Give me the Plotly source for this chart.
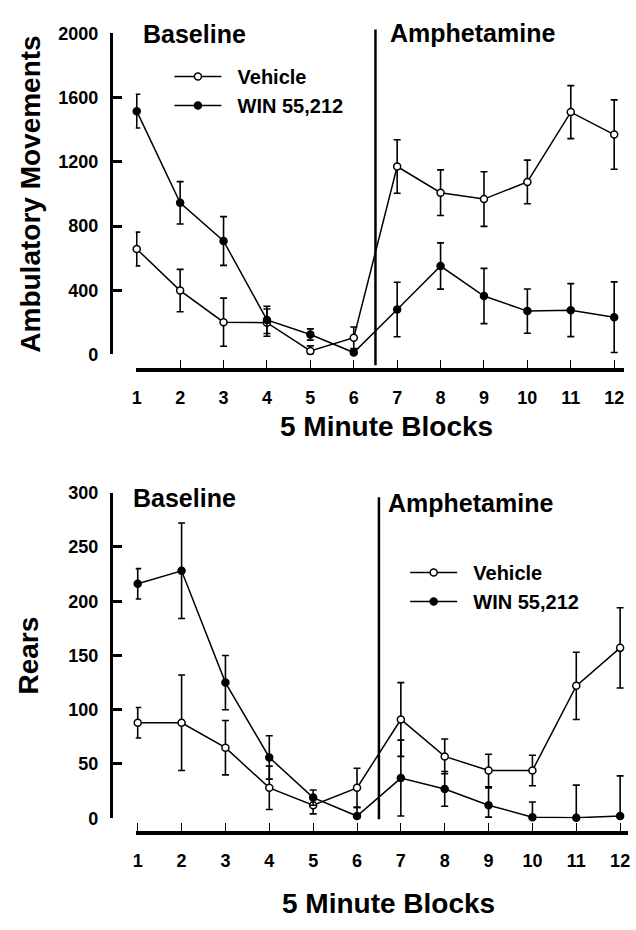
import plotly.graph_objects as go

W, H = 636, 930

# ---------------- data ----------------
blocks = list(range(1, 13))
tick_text = [str(b) for b in blocks]

# Top panel: Ambulatory movements
amb_vehicle = [657, 398, 201, 198, 22, 104, 1171, 1008, 968, 1075, 1510, 1370]
amb_vehicle_err = [105, 132, 150, 85, 31, 67, 167, 142, 170, 136, 165, 216]
amb_vehicle_err_minus = [105, 132, 150, 85, 22, 67, 167, 142, 170, 136, 165, 216]
amb_win = [1516, 945, 707, 215, 124, 12, 280, 551, 364, 270, 276, 232]
amb_win_err = [105, 132, 152, 85, 35, 15, 170, 144, 172, 138, 165, 220]
amb_win_err_minus = [105, 132, 152, 85, 35, 12, 170, 144, 172, 138, 165, 220]
amb_ticks = [0, 400, 800, 1200, 1600, 2000]

# Bottom panel: Rears
rear_vehicle = [88, 88, 65, 28, 12, 28, 91, 57, 44, 44, 122, 157]
rear_vehicle_err = [14, 44, 25, 20, 8, 18, 34, 16, 15, 14, 31, 37]
rear_vehicle_err_minus = [14, 44, 25, 20, 8, 18, 34, 16, 15, 14, 31, 37]
rear_win = [216, 228, 125, 56, 19, 2, 37, 27, 12, 1, 0.5, 2]
rear_win_err = [14, 44, 25, 20, 7, 8, 35, 16, 16, 14, 30, 37]
rear_win_err_minus = [14, 44, 25, 20, 7, 2, 35, 16, 11, 1, 0.5, 2]
rear_ticks = [0, 50, 100, 150, 200, 250, 300]

series_names = ["Vehicle", "WIN 55,212"]
phase_labels = ["Baseline", "Amphetamine"]
phase_split = 6.5
x_title = "5 Minute Blocks"
y_titles = ["Ambulatory Movements", "Rears"]

FONT = "Liberation Sans, Arial, Helvetica, sans-serif"
BLACK = "#000000"


def px_x(p):
    return p / W


def px_y(p):
    return 1 - p / H


def x_range(dom_l, dom_r, p1, p12):
    s = (p12 - p1) / 11.0
    return [1 - (p1 - dom_l) / s, 12 + (dom_r - p12) / s]


fig = go.Figure()


def add_series(xa, ya, legend, vals, ep, em, fill, name):
    fig.add_trace(go.Scatter(
        x=blocks, y=vals, name="\u00a0\u00a0" + name,
        xaxis=xa, yaxis=ya, legend=legend,
        mode="lines+markers", cliponaxis=False,
        line=dict(color=BLACK, width=1.5),
        marker=dict(symbol="circle", size=7, color=fill,
                    line=dict(color=BLACK, width=1.5)),
        error_y=dict(type="data", array=ep, arrayminus=em, symmetric=False,
                     color=BLACK, thickness=1.6, width=3.5),
    ))


add_series("x", "y", "legend", amb_vehicle, amb_vehicle_err, amb_vehicle_err_minus, "white", series_names[0])
add_series("x", "y", "legend", amb_win, amb_win_err, amb_win_err_minus, BLACK, series_names[1])
add_series("x2", "y2", "legend2", rear_vehicle, rear_vehicle_err, rear_vehicle_err_minus, "white", series_names[0])
add_series("x2", "y2", "legend2", rear_win, rear_win_err, rear_win_err_minus, BLACK, series_names[1])

tickfont = dict(family=FONT, size=18, color=BLACK, weight="bold")

xcommon = dict(
    tickmode="array", tickvals=blocks, ticktext=tick_text,
    ticks="inside", ticklen=8, tickwidth=1.2, tickcolor=BLACK,
    showline=True, linewidth=4, linecolor=BLACK,
    showgrid=False, zeroline=False, tickfont=tickfont,
    ticklabelstandoff=10, anchor="free", fixedrange=True,
)
ycommon = dict(
    ticks="inside", ticklen=9, tickwidth=2.6, tickcolor=BLACK,
    showline=True, linewidth=3, linecolor=BLACK,
    showgrid=False, zeroline=False, tickfont=tickfont,
    ticklabelstandoff=8, anchor="free", position=px_x(108), fixedrange=True,
)

# panel geometry
tx_l, tx_r = 133, 626
bx_l, bx_r = 133, 630

legend_font = dict(family=FONT, size=20, color=BLACK, weight="bold")

fig.update_layout(
    width=W, height=H, autosize=False,
    margin=dict(l=0, r=0, t=0, b=0, pad=0),
    paper_bgcolor="white", plot_bgcolor="white",
    font=dict(family=FONT, color=BLACK, weight="bold"),
    xaxis=dict(domain=[px_x(tx_l), px_x(tx_r)], range=x_range(tx_l, tx_r, 134, 616),
               position=px_y(368), **xcommon),
    yaxis=dict(domain=[px_y(352), px_y(24)], range=[0, 2000],
               tickvals=amb_ticks, **ycommon),
    xaxis2=dict(domain=[px_x(bx_l), px_x(bx_r)], range=x_range(bx_l, bx_r, 135, 622),
                position=px_y(841), **xcommon),
    yaxis2=dict(domain=[px_y(826), px_y(493.3)], range=[0, 300],
                tickvals=rear_ticks, **ycommon),
    legend=dict(x=px_x(167), y=px_y(48), xanchor="left", yanchor="top",
                bgcolor="rgba(0,0,0,0)", borderwidth=0, itemwidth=47,
                font=legend_font, tracegroupgap=0),
    legend2=dict(x=px_x(405), y=px_y(555), xanchor="left", yanchor="top",
                 bgcolor="rgba(0,0,0,0)", borderwidth=0, itemwidth=47,
                 font=legend_font, tracegroupgap=0),
    showlegend=True,
)

# phase divider lines
fig.add_shape(type="line", xref="x", yref="paper", x0=phase_split, x1=phase_split,
              y0=px_y(363), y1=px_y(20), line=dict(color=BLACK, width=2.5))
fig.add_shape(type="line", xref="x2", yref="paper", x0=phase_split, x1=phase_split,
              y0=px_y(827), y1=px_y(498), line=dict(color=BLACK, width=2.5))


def ann(text, x, y, size, xanchor="left", angle=0):
    fig.add_annotation(text=text, x=px_x(x), y=px_y(y), xref="paper", yref="paper",
                       showarrow=False, xanchor=xanchor, yanchor="middle", textangle=angle,
                       font=dict(family=FONT, size=size, color=BLACK, weight="bold"))


ann(phase_labels[0], 138, 25, 25)
ann(phase_labels[1], 388, 24, 25)
ann(phase_labels[0], 128, 499, 25)
ann(phase_labels[1], 386, 504, 25)
ann(x_title, 386, 426, 28, xanchor="center")
ann(x_title, 388, 913, 28, xanchor="center")
ann(y_titles[0], 27, 188, 28, xanchor="center", angle=-90)
ann(y_titles[1], 25, 660, 28, xanchor="center", angle=-90)

fig.write_html("out.html")
